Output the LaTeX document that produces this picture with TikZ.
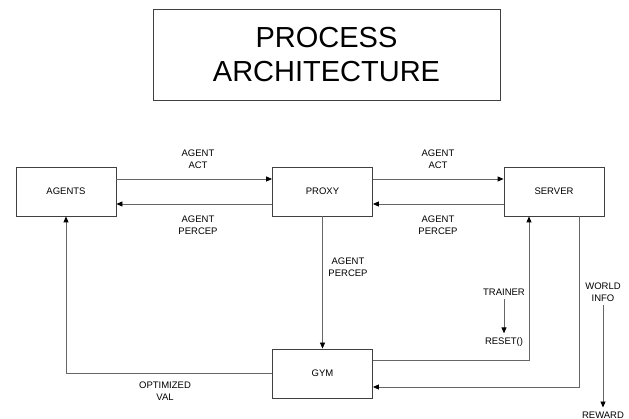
\documentclass[tikz,border=0pt]{standalone}
\usepackage{fontspec}
\setmainfont{Liberation Sans}
\usetikzlibrary{arrows.meta}
\tikzstyle{block}=[rectangle, draw=black!75
,line width=0.8pt
,minimum width=100pt
,minimum height=49pt
,inner sep=0pt
,font=\fontsize{9.5}{12}\selectfont
]
\tikzstyle{title box}=[block, minimum width=347pt, minimum height=91pt, align=center
,font=\fontsize{29}{34}\selectfont]
\tikzstyle{lbl}=[align=center, inner sep=3pt, font=\fontsize{9.5}{12}\selectfont]
\tikzstyle{edge}=[draw=black!60, line width=0.8pt, -{Triangle[length=6pt,width=5pt,color=black]}]
\tikzstyle{line}=[draw=black!60, line width=0.8pt]

\begin{document}
\begin{tikzpicture}[x=1pt,y=-1pt]
    \useasboundingbox (0,0) rectangle (629,419);
    % Title
    \node[title box] (title) at (326.5,54.5) {PROCESS\\ARCHITECTURE};

    % First we draw the blocks
    \foreach \pos/\name/\txt in {{(66,191.5)/agents/AGENTS}, {(322.5,191.5)/proxy/PROXY}, {(554,191.5)/server/SERVER}, {(322.5,373.5)/gym/GYM}}
        \node[block] (\name) at \pos {\txt};

    % Labels
    \node[lbl] (actl) at (198,159) {AGENT\\ACT};
    \node[lbl] (percl) at (198,225) {AGENT\\PERCEP};
    \node[lbl] (actr) at (438,159) {AGENT\\ACT};
    \node[lbl] (percr) at (438,225) {AGENT\\PERCEP};
    \node[lbl] (percd) at (348,267) {AGENT\\PERCEP};
    \node[lbl] (optval) at (165,391) {OPTIMIZED\\VAL};
    \node[lbl, inner sep=4pt] (trainer) at (504,292) {TRAINER};
    \node[lbl, inner sep=4pt] (reset) at (504,342) {RESET()};
    \node[lbl, inner sep=3pt] (world) at (603,292) {WORLD\\INFO};
    \node[lbl, inner sep=4pt] (reward) at (603,415) {REWARD};

    % Connect blocks with edges
    \foreach \source/\dest/\s in {agents/proxy/12.5, proxy/server/12.5, proxy/agents/-12.5, server/proxy/-12.5}
        \path[edge] ([yshift=\s pt]\source.\ifdim\s pt>0pt east\else west\fi) -- ([yshift=\s pt]\dest.\ifdim\s pt>0pt west\else east\fi);
    \path[edge] (proxy) -- (gym);
    \path[edge] ([yshift=13.5pt]gym.east) -| ([xshift=-25pt]server.south);
    \path[edge] ([xshift=25pt]server.south) |- ([yshift=-13.5pt]gym.east);
    \path[edge] (gym.west) -| (agents.south);
    \path[edge] (trainer) -- (reset);
    \path[edge] (world) -- (reward);
\end{tikzpicture}
\end{document}
